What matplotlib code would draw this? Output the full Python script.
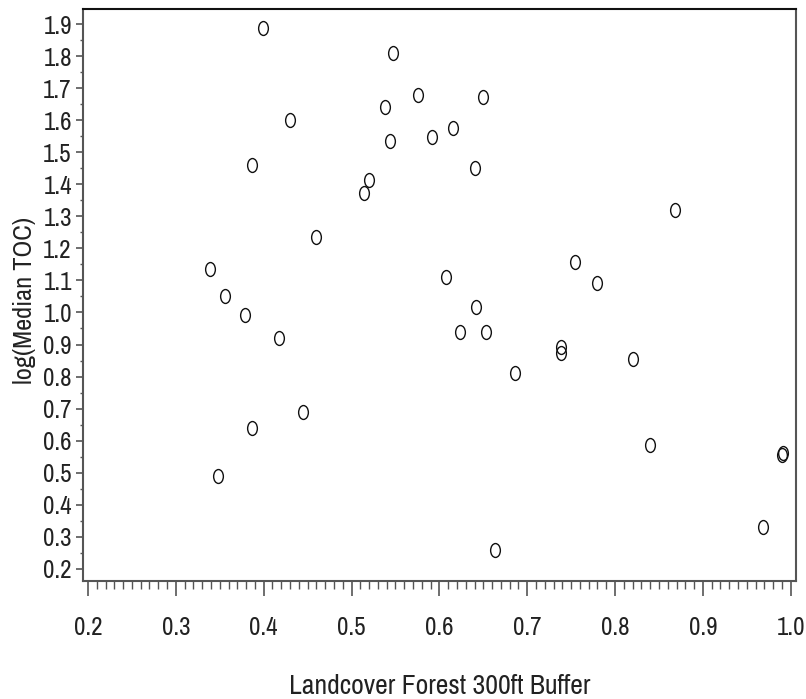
import matplotlib
matplotlib.use("Agg")
import matplotlib.pyplot as plt
import matplotlib.transforms as mtransforms
from matplotlib.path import Path
from matplotlib.ticker import MultipleLocator, FormatStrFormatter
from matplotlib import font_manager

# ---- data ----
forest_300ft = [0.399, 0.547, 0.538, 0.576, 0.650, 0.430, 0.544, 0.592, 0.616,
                0.387, 0.641, 0.520, 0.514, 0.868, 0.460, 0.339, 0.754, 0.608,
                0.779, 0.356, 0.642, 0.379, 0.624, 0.653, 0.418, 0.738, 0.738,
                0.820, 0.686, 0.445, 0.387, 0.840, 0.990, 0.991, 0.348, 0.968,
                0.663]
log_median_toc = [1.888, 1.809, 1.641, 1.678, 1.672, 1.600, 1.535, 1.547, 1.575,
                  1.460, 1.451, 1.413, 1.373, 1.320, 1.235, 1.135, 1.157, 1.110,
                  1.092, 1.051, 1.017, 0.992, 0.939, 0.939, 0.920, 0.892, 0.875,
                  0.854, 0.811, 0.689, 0.639, 0.586, 0.555, 0.560, 0.489, 0.330,
                  0.258]
x_label = "Landcover Forest 300ft Buffer"
y_label = "log(Median TOC)"

# ---- font choice: prefer a condensed face if one is installed ----
entries = font_manager.fontManager.ttflist
font_kw = {"family": ["DejaVu Sans"]}
tick_size, xlab_size, ylab_size = 13, 14, 14
narrow = [f.name for f in entries if ("Narrow" in f.name or "Condensed" in f.name)]
cond = [f.name for f in entries
        if str(f.stretch) in ("condensed", "semi-condensed", "extra-condensed")
        and f.name in ("DejaVu Sans", "Open Sans", "Roboto", "Noto Sans", "Liberation Sans")]
if narrow:
    font_kw = {"family": [narrow[0], "DejaVu Sans"]}
    tick_size, xlab_size, ylab_size = 18, 20, 19
elif cond:
    font_kw = {"family": [cond[0], "DejaVu Sans"], "stretch": "condensed"}
    tick_size, xlab_size, ylab_size = 18, 20, 19

fig = plt.figure(figsize=(8.06, 6.99), dpi=100)
ax = fig.add_axes([83/806, 1 - 581/699, (796 - 83)/806, (581 - 9)/699])

ellipse = Path.unit_circle().transformed(mtransforms.Affine2D().scale(0.70, 1.0))
ax.plot(forest_300ft, log_median_toc, linestyle="none", marker=ellipse,
        markersize=10, markerfacecolor="none", markeredgecolor="#111111",
        markeredgewidth=1.0)

ax.set_xlim(0.1943, 1.006)
ax.set_ylim(0.162, 1.947)

ax.xaxis.set_major_locator(MultipleLocator(0.1))
ax.xaxis.set_minor_locator(MultipleLocator(0.01))
ax.yaxis.set_major_locator(MultipleLocator(0.1))
ax.yaxis.set_minor_locator(MultipleLocator(0.05))
ax.xaxis.set_major_formatter(FormatStrFormatter("%.1f"))
ax.yaxis.set_major_formatter(FormatStrFormatter("%.1f"))

for side in ["left", "right", "top", "bottom"]:
    ax.spines[side].set_linewidth(1.5)
    ax.spines[side].set_color("#555555")
ax.spines["top"].set_color("#111111")

ax.tick_params(axis="x", which="major", direction="out", length=11, width=1.2,
               color="#555555", pad=14, labelsize=tick_size, labelcolor="#222222")
ax.tick_params(axis="x", which="minor", direction="out", length=5.5, width=1.0,
               color="#555555")
ax.tick_params(axis="y", which="major", direction="out", length=5, width=1.2,
               color="#555555", pad=3, labelsize=tick_size, labelcolor="#222222")
ax.tick_params(axis="y", which="minor", direction="out", length=2.5, width=1.0,
               color="#555555")
for lab in ax.get_xticklabels() + ax.get_yticklabels():
    lab.set_family(font_kw["family"])
    if "stretch" in font_kw:
        lab.set_stretch(font_kw["stretch"])

fig.text(440/806, 1 - 687/699, x_label, ha="center", va="center",
         fontsize=xlab_size, color="#222222", **font_kw)
fig.text(25/806, 1 - 300/699, y_label, ha="center", va="center", rotation=90,
         fontsize=ylab_size, color="#222222", **font_kw)

fig.savefig("out.png", dpi=100)
